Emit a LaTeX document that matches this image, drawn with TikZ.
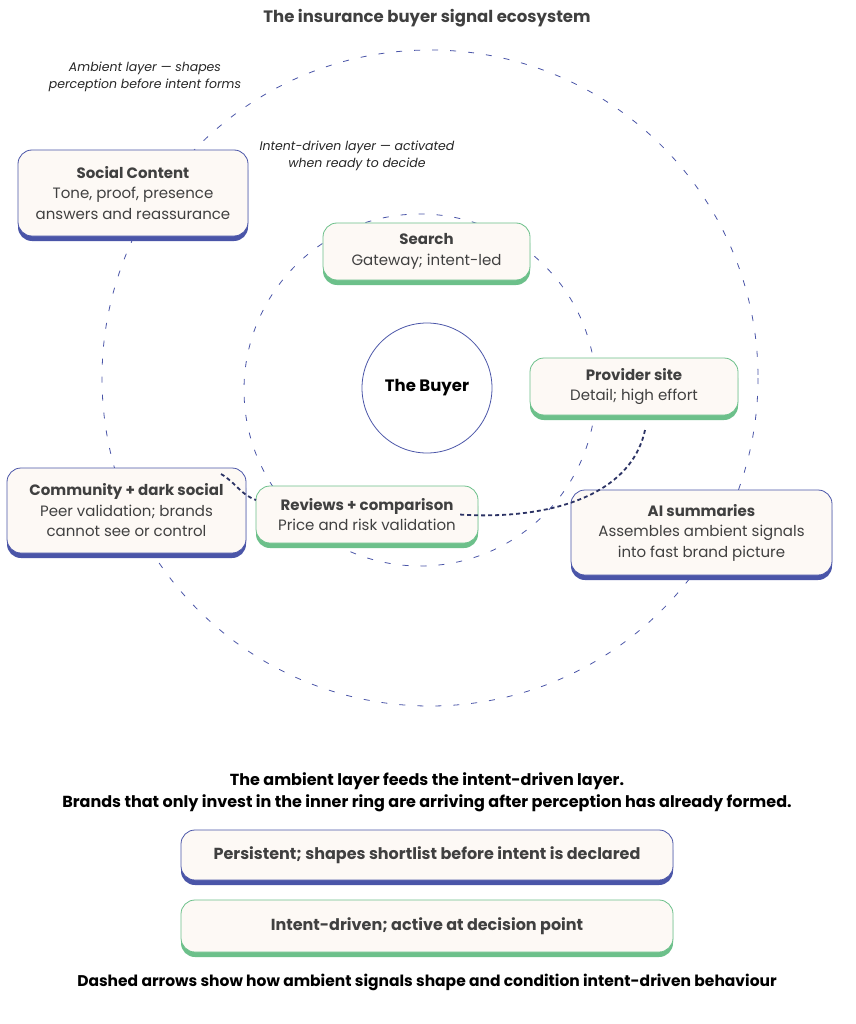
\documentclass[tikz,border=0pt]{standalone}
\usepackage{fontspec}
\setmainfont{Poppins}
\definecolor{bl}{HTML}{4A55A8}
\definecolor{gr}{HTML}{6CC08A}
\definecolor{fillc}{HTML}{FDF9F5}
\definecolor{tx}{HTML}{404040}
\begin{document}
\begin{tikzpicture}[x=1pt,y=-1pt,
  ring/.style={draw=bl,dash pattern=on 6pt off 12pt,line width=0.8pt},
  card/.style={fill=fillc,rounded corners=14pt,line width=0.8pt},
  bcard/.style={card,draw=bl},
  gcard/.style={card,draw=gr},
  lbl/.style={text=tx,align=center,font=\fontsize{15}{20.5}\selectfont},
  conn/.style={draw=bl!60!black,line width=1.8pt,dash pattern=on 4pt off 3pt}]
\useasboundingbox (0,0) rectangle (855,1024);
\fill[white] (0,0) rectangle (855,1024);
\draw[ring] (430,378) circle (328);
\draw[ring] (420,390) circle (176);
\node[circle,draw=bl,fill=white,minimum size=130pt,line width=0.8pt,font=\bfseries\fontsize{16.5}{20}\selectfont] (buyer) at (427,388) {The Buyer};
\newcommand\bx[8]{%
  \fill[#6,rounded corners=14pt] (#2,#3+6) rectangle (#4,#5+5);
  \draw[#7] (#2,#3) rectangle (#4,#5);
  \node[lbl] (#1) at ({(#2+#4)/2},{(#3+#5)/2}) {#8};}
\bx{social}{18}{150}{248}{236}{bl}{bcard}{{\bfseries Social Content}\\Tone, proof, presence\\answers and reassurance}
\bx{search}{323}{223}{530}{280}{gr}{gcard}{{\bfseries Search}\\Gateway; intent-led}
\bx{provider}{530}{358}{738}{415}{gr}{gcard}{{\bfseries Provider site}\\Detail; high effort}
\bx{community}{7}{468}{246}{553}{bl}{bcard}{{\bfseries Community + dark social}\\Peer validation; brands\\cannot see or control}
\bx{reviews}{256}{486}{478}{543}{gr}{gcard}{{\bfseries Reviews + comparison}\\Price and risk validation}
\bx{ai}{571}{490}{832}{575}{bl}{bcard}{{\bfseries AI summaries}\\Assembles ambient signals\\into fast brand picture}
\bx{leg1}{181}{830}{673}{880}{bl}{bcard}{\bfseries\fontsize{16}{20}\selectfont Persistent; shapes shortlist before intent is declared}
\bx{leg2}{181}{900}{673}{952}{gr}{gcard}{\bfseries\fontsize{16}{20}\selectfont Intent-driven; active at decision point}
\coordinate (c1) at (221,474);
\coordinate (c2) at (645,430);
\coordinate (r1) at (256,500);
\draw[conn] (c1) to[out=-30,in=160] (r1);
\draw[conn] (c2) .. controls (630,500) and (540,520) .. (reviews.east);
\node[font=\bfseries\fontsize{16.5}{20}\selectfont,text=tx] (title) at (427,18) {The insurance buyer signal ecosystem};
\node[font=\itshape\fontsize{12.5}{17}\selectfont,align=center,text=black!85] (amb) at (145,77) {Ambient layer — shapes\\perception before intent forms};
\node[font=\itshape\fontsize{12.5}{17}\selectfont,align=center,text=black!85] (int) at (357,156) {Intent-driven layer — activated\\when ready to decide};
\node[font=\bfseries\fontsize{16}{22}\selectfont,align=center] (msg) at (427,792) {The ambient layer feeds the intent-driven layer.\\Brands that only invest in the inner ring are arriving after perception has already formed.};
\node[font=\bfseries\fontsize{15.5}{18}\selectfont] (foot) at (427,982) {Dashed arrows show how ambient signals shape and condition intent-driven behaviour};
\end{tikzpicture}
\end{document}
